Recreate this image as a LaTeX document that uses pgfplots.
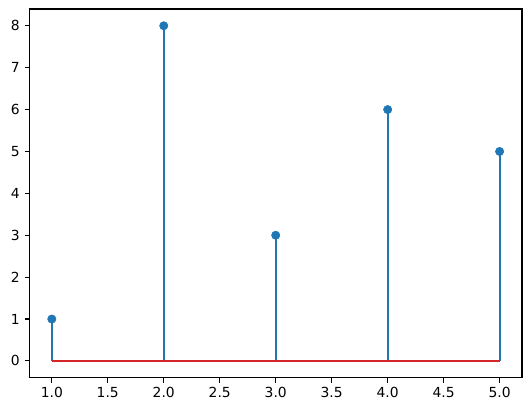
\documentclass[border=0pt]{standalone}
\usepackage{fontspec}
\setmainfont{DejaVu Sans}
\usepackage{pgfplots}
\pgfplotsset{compat=1.18}
\definecolor{mplblue}{HTML}{1F77B4}
\definecolor{mplred}{HTML}{D62728}

\begin{document}
\begin{tikzpicture}
\useasboundingbox (-21.2pt,-21.6pt) rectangle (362.2pt,272.2pt);
\begin{axis}[
    at={(0,0)}, anchor=south west,
    scale only axis,
    width=355pt,
    height=265.7pt,
    xmin=0.8, xmax=5.2,
    ymin=-0.4, ymax=8.4,
    xtick={1,1.5,...,5},
    ytick={0,1,...,8},
    xticklabel style={/pgf/number format/.cd,fixed,fixed zerofill,precision=1},
    /pgf/number format/assume math mode=true,
    tick label style={font=\fontsize{10}{12}\selectfont},
    tick align=outside,
    major tick length=3.5pt,
    xtick pos=bottom, ytick pos=left,
    axis line style={line width=0.8pt},
    every tick/.style={black, line width=0.8pt},
    clip=false,
]
\addplot[ycomb, mplblue, line width=1.5pt] coordinates {(1,1)(2,8)(3,3)(4,6)(5,5)};
\addplot[mplred, line width=1.5pt] coordinates {(1,0)(5,0)};
\addplot[only marks, mark=*, mark size=3pt, mplblue, mark options={draw=mplblue, fill=mplblue}] coordinates {(1,1)(2,8)(3,3)(4,6)(5,5)};
\end{axis}
\end{tikzpicture}
\end{document}
